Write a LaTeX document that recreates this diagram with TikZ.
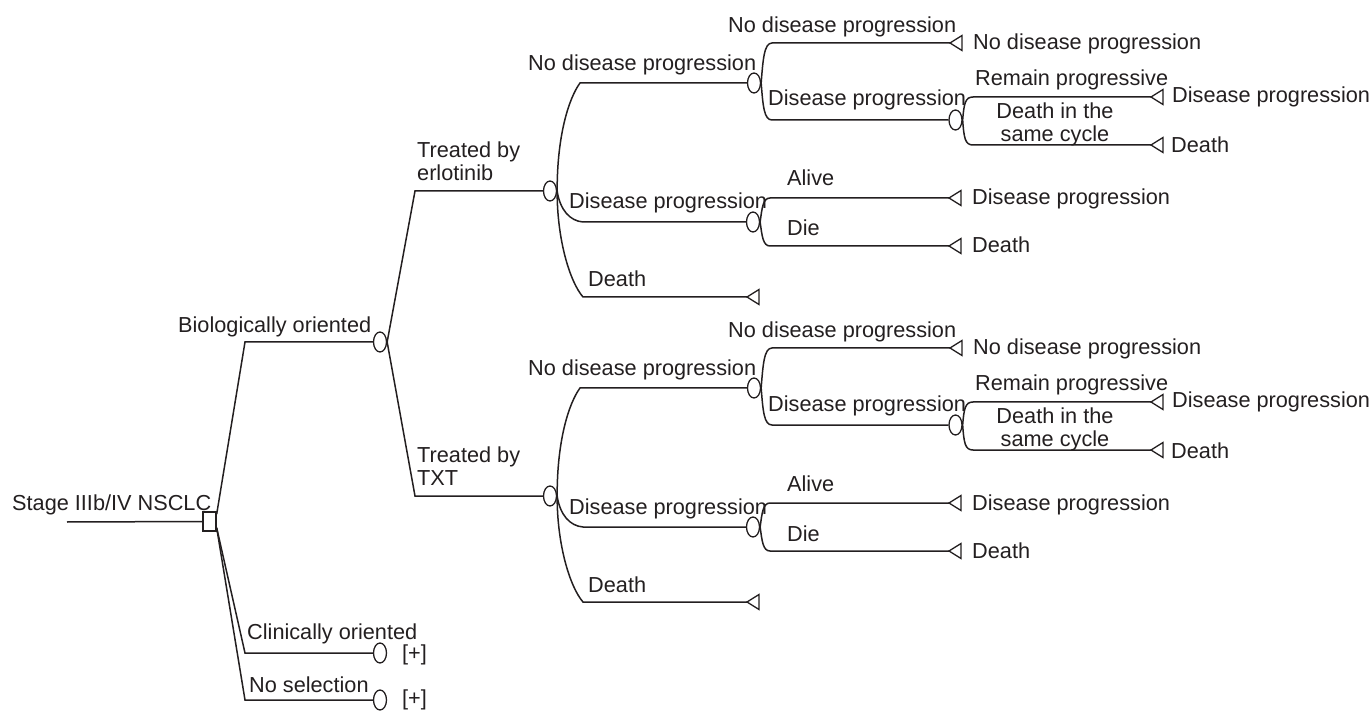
\documentclass[tikz,border=0pt]{standalone}
\usepackage{fontspec}
\setmainfont{Liberation Sans}
\usetikzlibrary{shapes.geometric}
\definecolor{ink}{RGB}{35,31,32}
\tikzset{
  edge/.style={draw=ink, line width=1.5pt},
  chance/.style={ellipse, draw=ink, line width=1.3pt, minimum width=13pt, minimum height=20pt, inner sep=0pt, fill=white},
  decision/.style={rectangle, draw=ink, line width=1.3pt, minimum width=13pt, minimum height=19pt, inner sep=0pt, fill=white},
  lbl/.style={text=ink, inner sep=0pt, anchor=base west, font=\fontsize{21.7}{23}\selectfont},
  terminal/.style={draw=ink, line width=1.3pt, fill=white, line join=miter},
}
\newcommand\termtri[1]{\draw[terminal] (#1) -- ++(12,-7.5) -- ++(0,15) -- cycle;}
\newcommand\mysubtree[3]{%
  \node[chance] (#1t) at (550,{191+#2}) {};
  \draw[edge] (bio.east) -- (415,{191+#2}) -- (#1t.west);
  \node[lbl, anchor=north west, align=left] (#1tl) at (417,{141.5+#2}) {Treated by\\#3};
  % level 2
  \node[chance] (#1n) at (754,{83+#2}) {};
  \draw[edge] (#1t.east) .. controls (557,{135+#2}) and (569,{98+#2}) .. (580,{83+#2}) -- (#1n.west);
  \node[lbl] (#1nl) at (528,{71+#2}) {No disease progression};
  \node[chance] (#1d) at (753,{222+#2}) {};
  \draw[edge] (#1t.east) .. controls (560,{210+#2}) and (570,{221+#2}) .. (583,{222+#2}) -- (#1d.west);
  \node[lbl] (#1dl) at (569,{209+#2}) {Disease progression};
  \coordinate (#1x) at (747,{297+#2});
  \draw[edge] (#1t.east) .. controls (557,{240+#2}) and (570,{282+#2}) .. (583,{297+#2}) -- (#1x);
  \termtri{#1x}
  \node[lbl] (#1xl) at (588,{287+#2}) {Death};
  % level 3 under no progression
  \coordinate (#1na) at (950,{43+#2});
  \draw[edge] (#1n.east) .. controls (763,{60+#2}) and (764,{43+#2}) .. (772,{43+#2}) -- (#1na);
  \termtri{#1na}
  \node[lbl] (#1nal) at (728,{33+#2}) {No disease progression};
  \node[lbl] (#1nat) at (973,{50+#2}) {No disease progression};
  \node[chance] (#1nb) at (955.5,{120+#2}) {};
  \draw[edge] (#1n.east) .. controls (763,{106+#2}) and (764,{120+#2}) .. (772,{120+#2}) -- (#1nb.west);
  \node[lbl] (#1nbl) at (768,{106+#2}) {Disease progression};
  % level 4
  \coordinate (#1nba) at (1151,{97+#2});
  \draw[edge] (#1nb.east) .. controls (964,{104+#2}) and (965,{97+#2}) .. (973,{97+#2}) -- (#1nba);
  \termtri{#1nba}
  \coordinate (#1nbb) at (1151,{145+#2});
  \draw[edge] (#1nb.east) .. controls (964,{138+#2}) and (965,{145+#2}) .. (973,{145+#2}) -- (#1nbb);
  \termtri{#1nbb}
  \node[lbl] (#1nbal) at (975,{86+#2}) {Remain progressive};
  \node[lbl, anchor=north, align=center] (#1nbbl) at (1055,{103+#2}) {Death in the\\same cycle};
  \node[lbl] (#1nbat) at (1172,{103+#2}) {Disease progression};
  \node[lbl] (#1nbbt) at (1171,{153+#2}) {Death};
  % level 3 under progression
  \coordinate (#1da) at (949,{198+#2});
  \draw[edge] (#1d.east) .. controls (762,{208+#2}) and (763,{198+#2}) .. (770,{198+#2}) -- (#1da);
  \termtri{#1da}
  \coordinate (#1db) at (949,{246+#2});
  \draw[edge] (#1d.east) .. controls (762,{236+#2}) and (763,{246+#2}) .. (770,{246+#2}) -- (#1db);
  \termtri{#1db}
  \node[lbl] (#1dal) at (787,{186+#2}) {Alive};
  \node[lbl] (#1dbl) at (787,{236+#2}) {Die};
  \node[lbl] (#1dat) at (972,{205+#2}) {Disease progression};
  \node[lbl] (#1dbt) at (972,{253+#2}) {Death};
}
\begin{document}
\begin{tikzpicture}[x=1pt,y=-1pt]
\useasboundingbox (0,0) rectangle (1369,711);
\coordinate (start) at (67,522);
\node[decision] (dec) at (209.5,521.5) {};
\draw[edge] (start) -- (dec.west);
\node[lbl] (stage) at (12,510) {Stage IIIb/IV NSCLC};
\node[chance] (bio) at (380,342) {};
\draw[edge] ([yshift=-3pt]dec.north east) -- (245,342) -- (bio.west);
\node[lbl] (biol) at (178,333) {Biologically oriented};
\node[chance] (clin) at (380,653) {};
\draw[edge] ([yshift=4pt]dec.south east) -- (245,653) -- (clin.west);
\node[lbl] (clinl) at (247,639) {Clinically oriented};
\node[lbl, anchor=west] (clinp) at (402,655) {[+]};
\node[chance] (nosel) at (380,700) {};
\draw[edge] ([yshift=4pt]dec.south east) -- (245,700) -- (nosel.west);
\node[lbl] (nosell) at (249,692) {No selection};
\node[lbl, anchor=west] (noselp) at (402,700) {[+]};
\mysubtree{E}{0}{erlotinib}
\mysubtree{T}{305}{TXT}
\end{tikzpicture}
\end{document}
